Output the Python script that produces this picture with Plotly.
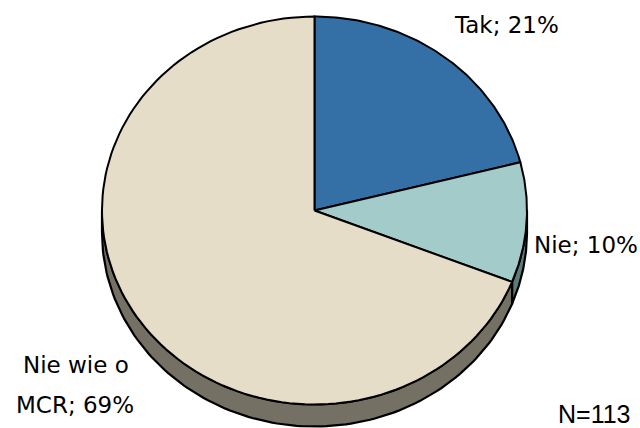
import numpy as np
import plotly.graph_objects as go

# data
labels = ["Tak", "Nie", "Nie wie o MCR"]
values = [21, 10, 69]
top_colors = ["#3470a6", "#a3cbca", "#e5ddc8"]
side_colors = ["#2a5a86", "#5b7c7b", "#747063"]
note = "N=113"

# pie geometry in page pixels
CX, CY = 314.5, 210.5
RX, RY = 212.5, 194.0
DEPTH = 22.0


def arc(a_from, a_to, dy=0.0, n=120):
    t = np.radians(np.linspace(a_from, a_to, n))
    return CX + RX * np.cos(t), CY - RY * np.sin(t) + dy


fig = go.Figure()

# slice angles: start at 12 o'clock, go clockwise
total = sum(values)
bounds = [90.0]
for v in values:
    bounds.append(bounds[-1] - 360.0 * v / total)

# side walls (front half only)
for i in range(len(values)):
    s, e = bounds[i], bounds[i + 1]
    hi, lo = min(s, 0.0), max(e, -180.0)
    if hi <= lo:
        continue
    tx, ty = arc(hi, lo)
    bx, by = arc(lo, hi, DEPTH)
    fig.add_trace(go.Scatter(
        x=np.concatenate([tx, bx, tx[:1]]), y=np.concatenate([ty, by, ty[:1]]),
        mode="lines", fill="toself", fillcolor=side_colors[i],
        line=dict(color="black", width=2.2), hoverinfo="skip", showlegend=False,
    ))

# top faces
for i in range(len(values)):
    s, e = bounds[i], bounds[i + 1]
    ax, ay = arc(s, e)
    fig.add_trace(go.Scatter(
        x=np.concatenate([[CX], ax, [CX]]), y=np.concatenate([[CY], ay, [CY]]),
        mode="lines", fill="toself", fillcolor=top_colors[i],
        line=dict(color="black", width=2), hoverinfo="skip", showlegend=False,
        name=labels[i],
    ))

lab_font = dict(family="DejaVu Sans", size=23, color="black")
fig.add_annotation(x=506, y=25, text=f"{labels[0]}; {values[0]}%", showarrow=False, font=lab_font)
fig.add_annotation(x=586, y=245, text=f"{labels[1]}; {values[1]}%", showarrow=False, font=lab_font)
fig.add_annotation(x=76, y=365, text="Nie wie o", showarrow=False, font=lab_font)
fig.add_annotation(x=75, y=405, text=f"MCR; {values[2]}%", showarrow=False, font=lab_font)
fig.add_annotation(x=594, y=414, text=note, showarrow=False,
                   font=dict(family="Liberation Sans", size=25, color="black"))

fig.update_layout(
    width=640, height=428,
    margin=dict(l=0, r=0, t=0, b=0),
    paper_bgcolor="white", plot_bgcolor="white",
    xaxis=dict(range=[0, 640], visible=False, fixedrange=True),
    yaxis=dict(range=[428, 0], visible=False, fixedrange=True),
)

fig.write_html("out.html", config={"displayModeBar": False},
               post_script="document.body.style.margin='0';")
